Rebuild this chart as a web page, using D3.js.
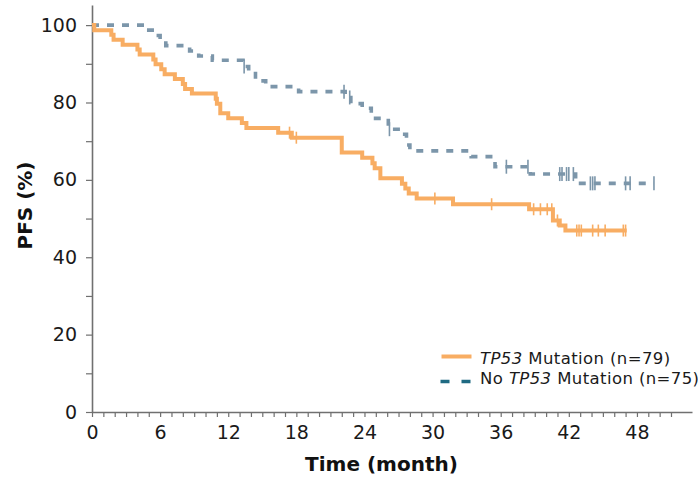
<!DOCTYPE html>
<html>
<head>
<meta charset="utf-8">
<script src="https://cdn.jsdelivr.net/npm/d3@7"></script>
<style>
  html, body { margin: 0; padding: 0; background: #fff; }
  svg { display: block; font-family: "DejaVu Sans", sans-serif; }
</style>
</head>
<body>
<svg id="chart" width="698" height="478"></svg>
<script>
// Kaplan–Meier step points: time (months) and PFS (%) after each event
const mutTimes = [0, 0.2, 1.7, 1.9, 2.7, 4.0, 4.2, 5.4, 5.6, 6.1, 6.4, 7.3, 8.0, 8.2, 8.8,
  10.9, 11.0, 11.3, 12.0, 13.2, 13.6, 16.4, 17.6, 22.0, 23.8, 24.7, 24.9, 25.4,
  27.3, 27.6, 27.9, 28.6, 31.8, 38.5, 40.6, 41.2, 41.7];
const mutSurv = [100, 98.7, 97.5, 96.2, 94.9, 93.7, 92.4, 91.1, 89.9, 88.6, 87.3, 86.1, 84.8, 83.5, 82.3,
  81.0, 79.7, 77.2, 75.9, 74.7, 73.4, 72.2, 70.9, 67.1, 65.7, 64.3, 63.0, 60.4,
  59.0, 57.8, 56.5, 55.2, 53.7, 52.4, 49.5, 48.2, 46.9];
const mutCensor = [17.4, 18.0, 30.2, 35.2, 38.9, 39.5, 40.1, 40.5, 41.0, 42.7, 42.9, 43.1,
  44.1, 44.6, 45.2, 46.8, 47.0];
const mutEnd = 47.1;

const wtTimes = [0, 4.8, 5.6, 6.0, 6.5, 8.6, 9.4, 10.6, 13.3, 13.8, 14.4, 15.3, 18.2,
  22.3, 22.8, 23.8, 24.6, 26.1, 27.3, 27.7, 28.0, 33.4, 35.5, 38.6, 42.6];
const wtSurv = [100, 98.7, 97.3, 96.0, 94.7, 93.3, 92.0, 90.9, 89.3, 88.0, 85.6, 84.1, 82.8,
  81.3, 79.7, 78.5, 75.9, 73.1, 71.8, 69.0, 67.5, 66.0, 63.4, 61.5, 59.1];
const wtCensor = [13.4, 22.2, 22.7, 26.2, 36.5, 38.4, 41.2, 41.4, 41.8, 42.0, 42.4,
  43.9, 44.1, 44.3, 47.0, 47.4, 49.5];
const wtEnd = 49.5;

const xTicks = d3.range(0, 52);
const xLabels = [0, 6, 12, 18, 24, 30, 36, 42, 48];
const yTicks = [0, 10, 20, 30, 40, 50, 60, 70, 80, 90, 100];
const yLabels = [0, 20, 40, 60, 80, 100];

const svg = d3.select("#chart");
const x = d3.scaleLinear().domain([0, 52.85]).range([92, 692]);
const y = d3.scaleLinear().domain([0, 105.2]).range([412, 5]);

const axisColor = "#707070";
const orange = "#f8ad63";
const steel = "#7c96aa";
const textColor = "#1a1a1a";

// Axes
const gx = svg.append("g").attr("transform", `translate(0,${y(0)})`)
  .call(d3.axisBottom(x).tickValues(xTicks).tickSize(5).tickSizeOuter(0).tickPadding(9)
    .tickFormat(d => xLabels.includes(d) ? d : ""));
const gy = svg.append("g").attr("transform", `translate(${x(0)},0)`)
  .call(d3.axisLeft(y).tickValues(yTicks).tickSize(6).tickSizeOuter(0).tickPadding(9)
    .tickFormat(d => yLabels.includes(d) ? d : ""));
[gx, gy].forEach(g => {
  g.select(".domain").attr("stroke", axisColor).attr("stroke-width", 1.6);
  g.selectAll(".tick line").attr("stroke", axisColor).attr("stroke-width", 1.2);
  g.selectAll(".tick text").attr("fill", textColor).style("font-size", "19px")
    .style("font-family", "'DejaVu Sans', sans-serif");
});

// Axis titles
svg.append("text")
  .attr("x", x(25.5)).attr("y", 471)
  .attr("text-anchor", "middle")
  .style("font-size", "20px").style("font-weight", "bold").attr("fill", "#111")
  .text("Time (month)");
svg.append("text")
  .attr("transform", `translate(32,${205.5}) rotate(-90)`)
  .attr("text-anchor", "middle")
  .style("font-size", "20px").style("font-weight", "bold").attr("fill", "#111")
  .text("PFS (%)");

// Step curves
function stepPoints(times, surv, end) {
  const pts = times.map((t, i) => [t, surv[i]]);
  pts.push([end, surv[surv.length - 1]]);
  return pts;
}
function survAt(times, surv, t) {
  let v = surv[0];
  for (let i = 0; i < times.length; i++) if (times[i] <= t) v = surv[i];
  return v;
}
const line = d3.line().x(d => x(d[0])).y(d => y(d[1])).curve(d3.curveStepAfter);

svg.append("path")
  .datum(stepPoints(wtTimes, wtSurv, wtEnd))
  .attr("d", line).attr("fill", "none")
  .attr("stroke", steel).attr("stroke-width", 3.6)
  .attr("stroke-dasharray", "7,8");
svg.append("g").selectAll("line").data(wtCensor).join("line")
  .attr("x1", d => x(d)).attr("x2", d => x(d))
  .attr("y1", d => y(survAt(wtTimes, wtSurv, d)) - 7)
  .attr("y2", d => y(survAt(wtTimes, wtSurv, d)) + 7)
  .attr("stroke", steel).attr("stroke-width", 1.6);

svg.append("path")
  .datum(stepPoints(mutTimes, mutSurv, mutEnd))
  .attr("d", line).attr("fill", "none")
  .attr("stroke", orange).attr("stroke-width", 4);
svg.append("g").selectAll("line").data(mutCensor).join("line")
  .attr("x1", d => x(d)).attr("x2", d => x(d))
  .attr("y1", d => y(survAt(mutTimes, mutSurv, d)) - 6)
  .attr("y2", d => y(survAt(mutTimes, mutSurv, d)) + 6)
  .attr("stroke", orange).attr("stroke-width", 1.6);

// Legend
const lg = svg.append("g");
lg.append("line").attr("x1", 441.5).attr("x2", 471.5).attr("y1", 356.5).attr("y2", 356.5)
  .attr("stroke", orange).attr("stroke-width", 4);
lg.append("line").attr("x1", 440.5).attr("x2", 471).attr("y1", 381.5).attr("y2", 381.5)
  .attr("stroke", "#1f6a82").attr("stroke-width", 3.6).attr("stroke-dasharray", "9,12");
const t1 = lg.append("text").attr("x", 480).attr("y", 364.3)
  .style("font-size", "16.5px").style("letter-spacing", "0.4px").attr("fill", textColor);
t1.append("tspan").style("font-style", "italic").text("TP53");
t1.append("tspan").text(" Mutation (n=79)");
const t2 = lg.append("text").attr("x", 480).attr("y", 384.3)
  .style("font-size", "16.5px").style("letter-spacing", "0.4px").attr("fill", textColor);
t2.append("tspan").text("No ");
t2.append("tspan").style("font-style", "italic").text("TP53");
t2.append("tspan").text(" Mutation (n=75)");
</script>
</body>
</html>
